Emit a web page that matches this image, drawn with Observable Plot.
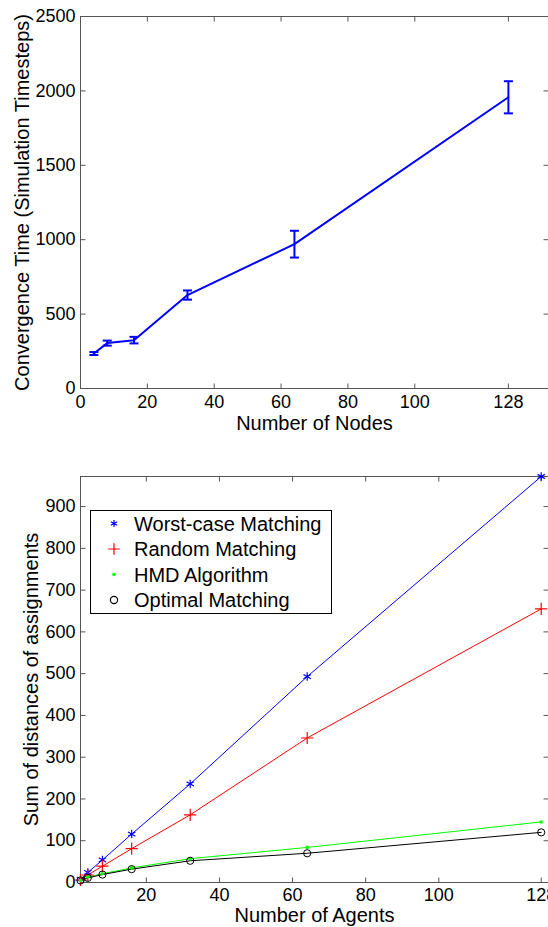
<!DOCTYPE html>
<html>
<head>
<meta charset="utf-8">
<script src="https://cdn.jsdelivr.net/npm/d3@7"></script>
<script src="https://cdn.jsdelivr.net/npm/@observablehq/plot@0.6"></script>
<style>
  body { margin: 0; background: #fff; }
  #app { width: 548px; }
  #app svg { display: block; }
</style>
</head>
<body>
<div id="app"></div>
<script>
// ---- Top chart data ----
const nodes = [4, 8, 16, 32, 64, 128];
const convTime = [235, 305, 325, 628, 970, 1957];
const convErr = [10, 17, 22, 31, 90, 108];
const nodeTicks = [0, 20, 40, 60, 80, 100, 128];
const convTicks = [0, 500, 1000, 1500, 2000, 2500];

// ---- Bottom chart data ----
const agents = [2, 4, 8, 16, 32, 64, 128];
const worstCase = [8, 24, 54, 116, 236, 493, 972];
const randomMatch = [6, 18, 39, 81, 162, 346, 655];
const hmd = [5, 13, 21, 35, 57, 84, 145];
const optimal = [5, 11, 19, 32, 52, 70, 120];
const seriesNames = ["Worst-case Matching", "Random Matching", "HMD Algorithm", "Optimal Matching"];
const agentTicks = [20, 40, 60, 80, 100, 128];
const distTicks = [0, 100, 200, 300, 400, 500, 600, 700, 800, 900];

const FONT = "'Liberation Sans', Arial, Helvetica, sans-serif";
const AXIS = "#555";
const fmt = d => String(d);

const segSym = (x1, y1, x2, y2) => ({draw(ctx) { ctx.moveTo(x1, y1); ctx.lineTo(x2, y2); }});
const TL = 5;
function innerTicks(xt, yt) {
  return [
    Plot.dot(xt, {x: d => d, frameAnchor: "bottom", symbol: segSym(0, 0, 0, -TL), stroke: AXIS, strokeWidth: 1}),
    Plot.dot(xt, {x: d => d, frameAnchor: "top", symbol: segSym(0, 0, 0, TL), stroke: AXIS, strokeWidth: 1}),
    Plot.dot(yt, {y: d => d, frameAnchor: "left", symbol: segSym(0, 0, TL, 0), stroke: AXIS, strokeWidth: 1}),
    Plot.dot(yt, {y: d => d, frameAnchor: "right", symbol: segSym(0, 0, -TL, 0), stroke: AXIS, strokeWidth: 1})
  ];
}

// ---- Top chart ----
const convRows = nodes.map((n, i) => ({n, t: convTime[i], lo: convTime[i] - convErr[i], hi: convTime[i] + convErr[i]}));
const capSym = segSym(-4.5, 0, 4.5, 0);
const chart1 = Plot.plot({
  width: 548, height: 440,
  marginLeft: 80, marginRight: 0, marginTop: 16, marginBottom: 52,
  style: {fontFamily: FONT, fontSize: "18px", color: "#000", background: "#fff"},
  x: {domain: [0, 140]},
  y: {domain: [0, 2500]},
  marks: [
    Plot.frame({stroke: AXIS}),
    ...innerTicks(nodeTicks, convTicks),
    Plot.axisX({ticks: nodeTicks, tickSize: 0, tickPadding: 7, label: null, fontSize: 18, tickFormat: fmt}),
    Plot.axisY({ticks: convTicks, tickSize: 0, tickPadding: 5, label: null, fontSize: 18, tickFormat: fmt}),
    Plot.line(convRows, {x: "n", y: "t", stroke: "#0000ff", strokeWidth: 2}),
    Plot.ruleX(convRows, {x: "n", y1: "lo", y2: "hi", stroke: "#0000ff", strokeWidth: 2}),
    Plot.dot(convRows, {x: "n", y: "lo", symbol: capSym, stroke: "#0000ff", strokeWidth: 2}),
    Plot.dot(convRows, {x: "n", y: "hi", symbol: capSym, stroke: "#0000ff", strokeWidth: 2}),
    Plot.text(["Number of Nodes"], {text: d => d, frameAnchor: "bottom", dy: 35, fontSize: 20, textAnchor: "middle", lineAnchor: "middle"}),
    Plot.text(["Convergence Time (Simulation Timesteps)"], {text: d => d, frameAnchor: "left", dx: -57.5, rotate: -90, fontSize: 20, textAnchor: "middle", lineAnchor: "middle"})
  ]
});

// ---- Bottom chart ----
const seriesVals = [worstCase, randomMatch, hmd, optimal];
const colors = ["#0000ff", "#ff0000", "#00ff00", "#000000"];
const rows = [];
seriesVals.forEach((vals, s) => agents.forEach((a, i) => rows.push({a, v: vals[i], s: seriesNames[s]})));
const bySeries = name => rows.filter(d => d.s === name);

const chart2 = Plot.plot({
  width: 548, height: 487,
  marginLeft: 80, marginRight: 0, marginTop: 36, marginBottom: 45,
  style: {fontFamily: FONT, fontSize: "18px", color: "#000", background: "#fff"},
  x: {domain: [2, 130]},
  y: {domain: [0, 972]},
  marks: [
    Plot.frame({stroke: AXIS}),
    ...innerTicks(agentTicks, distTicks),
    Plot.axisX({ticks: agentTicks, tickSize: 0, tickPadding: 6, label: null, fontSize: 18, tickFormat: fmt}),
    Plot.axisY({ticks: distTicks, tickSize: 0, tickPadding: 5, label: null, fontSize: 18, tickFormat: fmt}),
    ...seriesNames.map((name, s) => Plot.line(bySeries(name), {x: "a", y: "v", stroke: colors[s], strokeWidth: 1})),
    Plot.dot(bySeries(seriesNames[0]), {x: "a", y: "v", symbol: "asterisk", r: 4, stroke: colors[0], strokeWidth: 1.2}),
    Plot.dot(bySeries(seriesNames[1]), {x: "a", y: "v", symbol: "plus", r: 4, stroke: colors[1], strokeWidth: 1.2}),
    Plot.dot(bySeries(seriesNames[2]), {x: "a", y: "v", r: 1.8, fill: colors[2], stroke: "none"}),
    Plot.dot(bySeries(seriesNames[3]), {x: "a", y: "v", symbol: "circle", r: 3.6, stroke: colors[3], fill: "none", strokeWidth: 1}),
    Plot.text(["Number of Agents"], {text: d => d, frameAnchor: "bottom", dy: 33, fontSize: 20, textAnchor: "middle", lineAnchor: "middle"}),
    Plot.text(["Sum of distances of assignments"], {text: d => d, frameAnchor: "left", dx: -49, rotate: -90, fontSize: 20, textAnchor: "middle", lineAnchor: "middle"})
  ]
});

// Legend (drawn into the bottom chart's SVG)
(function addLegend(svg) {
  const g = d3.select(svg).append("g").attr("font-family", FONT).attr("font-size", 20).attr("text-anchor", "start");
  g.append("rect").attr("x", 90.5).attr("y", 70.5).attr("width", 241).attr("height", 103)
    .attr("fill", "#fff").attr("stroke", "#000").attr("stroke-width", 1);
  const syms = [
    {type: d3.symbolAsterisk, size: 3.4 * 3.4 * Math.PI, fill: "none", stroke: colors[0]},
    {type: d3.symbolPlus, size: 3.8 * 3.8 * Math.PI, fill: "none", stroke: colors[1]},
    {type: d3.symbolCircle, size: 1.8 * 1.8 * Math.PI, fill: colors[2], stroke: "none"},
    {type: d3.symbolCircle, size: 3.6 * 3.6 * Math.PI, fill: "none", stroke: colors[3]}
  ];
  seriesNames.forEach((name, i) => {
    const cy = 83.5 + i * 25.5;
    g.append("path").attr("d", d3.symbol(syms[i].type, syms[i].size)())
      .attr("transform", `translate(114,${cy})`)
      .attr("fill", syms[i].fill).attr("stroke", syms[i].stroke).attr("stroke-width", 1.2);
    g.append("text").attr("x", 134).attr("y", cy).attr("dy", "0.35em").attr("fill", "#000")
      .attr("text-anchor", "start").text(name);
  });
})(chart2);

const app = document.getElementById("app");
app.appendChild(chart1);
app.appendChild(chart2);
</script>
</body>
</html>
